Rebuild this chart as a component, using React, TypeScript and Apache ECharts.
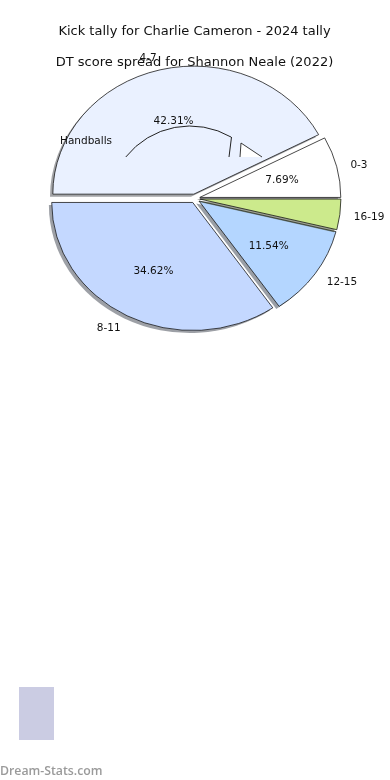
import React, { useEffect, useRef } from 'react';
import * as echarts from 'echarts';

const categories = ['0-3', '4-7', '8-11', '12-15', '16-19'];
const counts = [2, 11, 9, 3, 1];
const sliceColors = ['#ffffff', '#eaf1ff', '#c4d8ff', '#b4d6ff', '#ccea8c'];
const titleText = 'Kick tally for Charlie Cameron - 2024 tally';
const subtitleText = 'DT score spread for Shannon Neale (2022)';
const annotationText = 'Handballs';
const watermarkText = 'Dream-Stats.com';
const minPctShown = 5;

const FONT = '"DejaVu Sans", sans-serif';
const CX = 195;
const CY = 198.5;
const RX = 141;
const RY = 128;
const EXPLODE = 0.035;
const SHADOW = 0.02;

function shade(hex: string): string {
  const n = parseInt(hex.slice(1), 16);
  const r = Math.round(((n >> 16) & 255) * 0.3);
  const g = Math.round(((n >> 8) & 255) * 0.3);
  const b = Math.round((n & 255) * 0.3);
  return `rgba(${r},${g},${b},0.5)`;
}

export default function App() {
  const ref = useRef<HTMLDivElement>(null);
  useEffect(() => {
    if (!ref.current) return;
    const chart = echarts.init(ref.current, undefined, { renderer: 'svg' });
    const total = counts.reduce((a, b) => a + b, 0);
    const starts: number[] = [];
    let acc = 0;
    counts.forEach((c) => {
      starts.push(acc);
      acc += c;
    });

    const renderItem = (params: any, api: any) => {
      const i = params.dataIndex;
      const v = api.value(0);
      const a1 = (starts[i] / total) * Math.PI * 2;
      const a2 = a1 + (v / total) * Math.PI * 2;
      const mid = (a1 + a2) / 2;
      const c = Math.cos(mid);
      const s = Math.sin(mid);
      const ox = CX + EXPLODE * RX * c;
      const oy = CY - EXPLODE * RY * s;
      const shape = { cx: 0, cy: 0, r: RX, r0: 0, startAngle: -a2, endAngle: -a1, clockwise: true };
      const scaleY = RY / RX;
      const pct = (v / total) * 100;
      const children: any[] = [
        {
          type: 'sector',
          x: ox - SHADOW * RX,
          y: oy + SHADOW * RY,
          scaleY,
          shape,
          style: { fill: shade(sliceColors[i]) },
        },
        {
          type: 'sector',
          x: ox,
          y: oy,
          scaleY,
          shape,
          style: {
            fill: sliceColors[i],
            stroke: '#111',
            lineWidth: 0.8,
            strokeNoScale: true,
          },
        },
        {
          type: 'text',
          z2: 50,
          x: ox + 1.1 * RX * c,
          y: oy - 1.1 * RY * s,
          style: {
            text: categories[i],
            align: c > 0 ? 'left' : 'right',
            verticalAlign: 'middle',
            fill: '#111',
            font: `10.5px ${FONT}`,
          },
        },
      ];
      if (pct >= minPctShown) {
        children.push({
          type: 'text',
          z2: 50,
          x: ox + 0.6 * RX * c,
          y: oy - 0.6 * RY * s,
          style: {
            text: pct.toFixed(2) + '%',
            align: 'center',
            verticalAlign: 'middle',
            fill: '#111',
            font: `10.5px ${FONT}`,
          },
        });
      }
      return { type: 'group', children };
    };

    chart.setOption({
      animation: false,
      series: [
        {
          type: 'custom',
          coordinateSystem: 'none',
          silent: true,
          data: counts.map((c, i) => [c, i]),
          renderItem,
        },
      ],
      graphic: [
        {
          type: 'text',
          z: 100,
          x: 194.5,
          y: 30,
          style: { text: titleText, align: 'center', verticalAlign: 'middle', fill: '#111', font: `13px ${FONT}` },
        },
        {
          type: 'text',
          z: 100,
          x: 194.5,
          y: 61,
          style: { text: subtitleText, align: 'center', verticalAlign: 'middle', fill: '#111', font: `13px ${FONT}` },
        },
        {
          type: 'text',
          z: 100,
          x: 60,
          y: 140,
          style: { text: annotationText, align: 'left', verticalAlign: 'middle', fill: '#111', font: `10.5px ${FONT}` },
        },
        {
          type: 'arc',
          z: 100,
          shape: { cx: 190, cy: 208, r: 82, startAngle: -2.47, endAngle: -1.046, clockwise: true },
          style: { stroke: '#222', lineWidth: 1, fill: 'none' },
        },
        {
          type: 'line',
          z: 100,
          shape: { x1: 231.5, y1: 137, x2: 229, y2: 157 },
          style: { stroke: '#222', lineWidth: 1 },
        },
        {
          type: 'polygon',
          z: 100,
          shape: { points: [[241, 143], [262, 157], [240, 157]] },
          style: { fill: '#ffffff' },
        },
        {
          type: 'polyline',
          z: 101,
          shape: { points: [[240, 157], [241, 143], [262, 157]] },
          style: { stroke: '#222', lineWidth: 0.9, fill: 'none' },
        },
        {
          type: 'rect',
          z: 100,
          shape: { x: 19, y: 687, width: 35, height: 53 },
          style: { fill: '#cbcce3' },
        },
        {
          type: 'text',
          z: 100,
          x: 0,
          y: 770,
          style: { text: watermarkText, align: 'left', verticalAlign: 'middle', fill: '#9a9a9a', font: `600 12.3px "Open Sans", sans-serif` },
        },
      ],
    });
    return () => chart.dispose();
  }, []);
  return <div ref={ref} style={{ position: 'fixed', left: 0, top: 0, width: 390, height: 780 }} />;
}
